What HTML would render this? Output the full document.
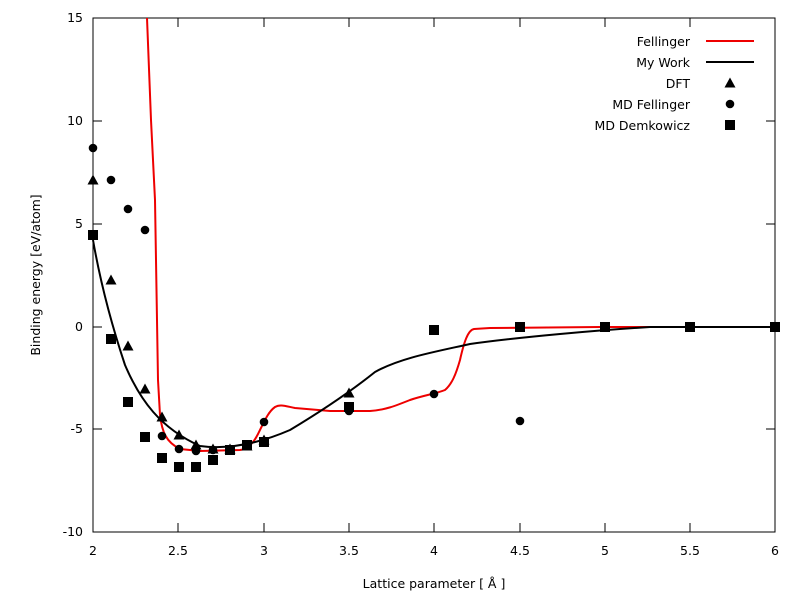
<!DOCTYPE html>
<html><head><meta charset="utf-8"><style>
html,body{margin:0;padding:0;background:#fff;}
svg{display:block;font-family:"DejaVu Sans","Liberation Sans",sans-serif;font-size:12.5px;}
</style></head><body>
<svg width="800" height="600" viewBox="0 0 800 600" xmlns="http://www.w3.org/2000/svg">
<defs>
<symbol id="tri" overflow="visible"><polygon points="0,-5.5 5.5,4.5 -5.5,4.5" fill="#000"/></symbol>
<symbol id="cir" overflow="visible"><circle r="4.3" fill="#000"/></symbol>
<symbol id="sq" overflow="visible"><rect x="-5" y="-5" width="10" height="10" fill="#000"/></symbol>
</defs>
<rect x="93" y="18" width="682" height="514" fill="none" stroke="#000" stroke-width="1"/>
<g stroke="#000" stroke-width="1">
<path d="M93,532v-9M93,18v9M178,532v-9M178,18v9M264,532v-9M264,18v9M349,532v-9M349,18v9M434,532v-9M434,18v9M520,532v-9M520,18v9M605,532v-9M605,18v9M690,532v-9M690,18v9M775,532v-9M775,18v9"/>
<path d="M93,532h9M775,532h-9M93,429h9M775,429h-9M93,327h9M775,327h-9M93,224h9M775,224h-9M93,121h9M775,121h-9M93,18h9M775,18h-9"/>
</g>
<g text-anchor="end">
<text x="83" y="536">-10</text><text x="83" y="433">-5</text><text x="83" y="331">0</text>
<text x="83" y="228">5</text><text x="83" y="125">10</text><text x="83" y="22">15</text>
</g>
<g text-anchor="middle">
<text x="93" y="555">2</text><text x="178" y="555">2.5</text><text x="264" y="555">3</text><text x="349" y="555">3.5</text>
<text x="434" y="555">4</text><text x="520" y="555">4.5</text><text x="605" y="555">5</text><text x="690" y="555">5.5</text><text x="775" y="555">6</text>
<text x="434" y="588">Lattice parameter [ Å ]</text>
<text transform="translate(40,275) rotate(-90)">Binding energy [eV/atom]</text>
</g>
<path fill="none" stroke="#e00" stroke-width="2" d="M147,18 L151,120 L155,200 L158,380 L160,415 C162,432 166,442 180,449 L200,451 L240,450 C248,449 254,442 258,434 C264,422 268,412 275,407 C280,404 285,406 295,408 L330,411 L370,411 C385,410 395,406 410,400 C425,395 435,394 445,390 C452,384 456,374 460,360 C464,342 468,330 474,329 L490,328 L600,327 L775,327"/>
<path fill="none" stroke="#000" stroke-width="2" d="M93,240 C100,280 110,320 125,365 C140,400 160,428 200,446 C230,450 260,443 290,430 C320,412 350,392 375,372 C400,358 434,352 470,344 C520,337 600,330 650,327 L775,327"/>
<g>
<use href="#tri" x="93" y="180"/><use href="#tri" x="111" y="280"/><use href="#tri" x="128" y="346"/><use href="#tri" x="145" y="389"/><use href="#tri" x="162" y="417"/><use href="#tri" x="179" y="435"/><use href="#tri" x="196" y="445"/><use href="#tri" x="213" y="449"/><use href="#tri" x="230" y="449"/><use href="#tri" x="247" y="446"/><use href="#tri" x="264" y="440"/><use href="#tri" x="349" y="393"/>
<use href="#cir" x="93" y="148"/><use href="#cir" x="111" y="180"/><use href="#cir" x="128" y="209"/><use href="#cir" x="145" y="230"/><use href="#cir" x="162" y="436"/><use href="#cir" x="179" y="449"/><use href="#cir" x="196" y="451"/><use href="#cir" x="213" y="450"/><use href="#cir" x="230" y="449"/><use href="#cir" x="247" y="446"/><use href="#cir" x="264" y="422"/><use href="#cir" x="349" y="411"/><use href="#cir" x="434" y="394"/><use href="#cir" x="520" y="421"/>
<use href="#sq" x="93" y="235"/><use href="#sq" x="111" y="339"/><use href="#sq" x="128" y="402"/><use href="#sq" x="145" y="437"/><use href="#sq" x="162" y="458"/><use href="#sq" x="179" y="467"/><use href="#sq" x="196" y="467"/><use href="#sq" x="213" y="460"/><use href="#sq" x="230" y="450"/><use href="#sq" x="247" y="445"/><use href="#sq" x="264" y="442"/><use href="#sq" x="349" y="407"/><use href="#sq" x="434" y="330"/><use href="#sq" x="520" y="327"/><use href="#sq" x="605" y="327"/><use href="#sq" x="690" y="327"/><use href="#sq" x="775" y="327"/>
</g>
<g text-anchor="end">
<text x="690" y="46">Fellinger</text>
<text x="690" y="67">My Work</text>
<text x="690" y="88">DFT</text>
<text x="690" y="109">MD Fellinger</text>
<text x="690" y="130">MD Demkowicz</text>
</g>
<path d="M706,41h48" stroke="#e00" stroke-width="2"/>
<path d="M706,62h48" stroke="#000" stroke-width="2"/>
<use href="#tri" x="730" y="83"/><use href="#cir" x="730" y="104"/><use href="#sq" x="730" y="125"/>
</svg>
</body></html>
